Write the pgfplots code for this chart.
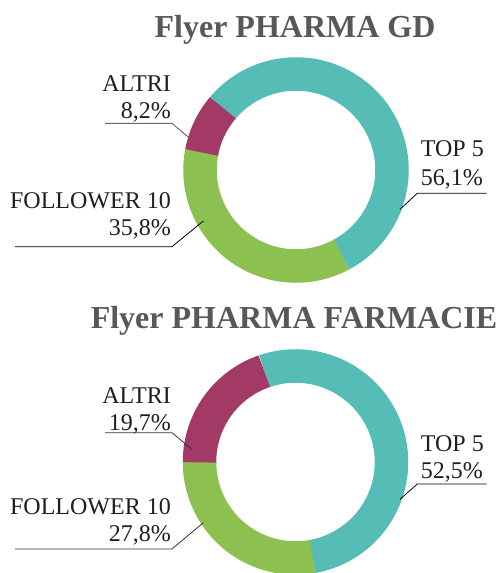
\documentclass[border=0pt]{standalone}
\usepackage{fontspec}
\setmainfont{Liberation Serif}
\usepackage{pgfplots}
\usepackage{pgfplotstable}
\pgfplotsset{compat=1.18}
\definecolor{cTeal}{HTML}{55BDB5}
\definecolor{cGreen}{HTML}{8CC152}
\definecolor{cMaroon}{HTML}{A33A66}
\definecolor{cTitle}{HTML}{58585A}
\definecolor{cLab}{HTML}{1E1E1E}

\pgfplotstableread{
slice value
top5 56.1
follower 35.8
altri 8.2
}\tabGD
\pgfplotstableread{
slice value
top5 52.5
follower 27.8
altri 19.7
}\tabFA

\newcommand\getval[3]{\pgfplotstablegetelem{#2}{value}\of#1\global\let#3\pgfplotsretval}
\newcommand\ttl{\fontsize{32}{36}\selectfont\bfseries}
\newcommand\lab{\fontsize{24}{28}\selectfont}

\begin{document}
\begin{tikzpicture}
\getval\tabGD{0}\gdA
\getval\tabGD{1}\gdB
\getval\tabGD{2}\gdC
\getval\tabFA{0}\faA
\getval\tabFA{1}\faB
\getval\tabFA{2}\faC
% start angles (math convention), slices run clockwise
\pgfmathsetmacro\gdS{140}
\pgfmathsetmacro\gdEa{\gdS-3.6*\gdA}
\pgfmathsetmacro\gdEb{\gdEa-3.6*\gdB}
\pgfmathsetmacro\gdEc{\gdEb-3.6*\gdC}
\pgfmathsetmacro\faS{109}
\pgfmathsetmacro\faEa{\faS-3.6*\faA}
\pgfmathsetmacro\faEb{\faEa-3.6*\faB}
\pgfmathsetmacro\faEc{\faEb-3.6*\faC}
\begin{axis}[at={(0,0)}, anchor=south west, scale only axis,
  width=503pt, height=573pt, xmin=0, xmax=503, ymin=0, ymax=573,
  y dir=reverse, axis lines=none, ticks=none, clip=false]
% ---- donut 1
\draw[cTeal, line width=33.5pt] (axis cs:296,170) ++(\gdS:96pt) arc[start angle=\gdS, end angle=\gdEa, radius=96pt];
\draw[cGreen, line width=33.5pt] (axis cs:296,170) ++(\gdEa+0.3:96pt) arc[start angle=\gdEa+0.3, end angle=\gdEb, radius=96pt];
\draw[cMaroon, line width=33.5pt] (axis cs:296,170) ++(\gdEb+0.3:96pt) arc[start angle=\gdEb+0.3, end angle=\gdEc, radius=96pt];
% ---- donut 2
\draw[cTeal, line width=33.5pt] (axis cs:295.5,462) ++(\faS:96pt) arc[start angle=\faS, end angle=\faEa, radius=96pt];
\draw[cGreen, line width=33.5pt] (axis cs:295.5,462) ++(\faEa+0.3:96pt) arc[start angle=\faEa+0.3, end angle=\faEb, radius=96pt];
\draw[cMaroon, line width=33.5pt] (axis cs:295.5,462) ++(\faEb+0.3:96pt) arc[start angle=\faEb+0.3, end angle=\faEc, radius=96pt];
% ---- titles
\node[anchor=base, font=\ttl, text=cTitle, inner sep=0pt] at (axis cs:295,37) {Flyer PHARMA GD};
\node[anchor=base, font=\ttl, text=cTitle, inner sep=0pt] at (axis cs:294,328) {Flyer PHARMA FARMACIE};
% ---- labels donut 1
\node[anchor=base east, font=\lab, text=cLab, inner sep=0pt] at (axis cs:171,91.7) {ALTRI};
\node[anchor=base east, font=\lab, text=cLab, inner sep=0pt] at (axis cs:171,118.3) {8,2\%};
\draw[black!60, line width=0.9pt] (axis cs:105,123.3) -- (axis cs:172,123.3) -- (axis cs:191.7,140);
\node[anchor=base east, font=\lab, text=cLab, inner sep=0pt] at (axis cs:171,208.3) {FOLLOWER 10};
\node[anchor=base east, font=\lab, text=cLab, inner sep=0pt] at (axis cs:171,235) {35,8\%};
\draw[black, line width=0.8pt] (axis cs:15,246.7) -- (axis cs:172,246.7) -- (axis cs:203.3,221);
\node[anchor=base west, font=\lab, text=cLab, inner sep=0pt] at (axis cs:420.7,156.7) {TOP 5};
\node[anchor=base west, font=\lab, text=cLab, inner sep=0pt] at (axis cs:420.7,185) {56,1\%};
\draw[black, line width=0.8pt] (axis cs:486.7,193.3) -- (axis cs:417.3,193.3) -- (axis cs:400,209.3);
% ---- labels donut 2
\node[anchor=base east, font=\lab, text=cLab, inner sep=0pt] at (axis cs:171,403.3) {ALTRI};
\node[anchor=base east, font=\lab, text=cLab, inner sep=0pt] at (axis cs:171,430) {19,7\%};
\draw[black!80, line width=0.8pt] (axis cs:105,432.7) -- (axis cs:172,432.7) -- (axis cs:191.7,449.3);
\node[anchor=base east, font=\lab, text=cLab, inner sep=0pt] at (axis cs:171,514) {FOLLOWER 10};
\node[anchor=base east, font=\lab, text=cLab, inner sep=0pt] at (axis cs:171,541.7) {27,8\%};
\draw[black!80, line width=0.8pt] (axis cs:15,549) -- (axis cs:172,549) -- (axis cs:203.3,522.7);
\node[anchor=base west, font=\lab, text=cLab, inner sep=0pt] at (axis cs:420.7,451.7) {TOP 5};
\node[anchor=base west, font=\lab, text=cLab, inner sep=0pt] at (axis cs:420.7,478.3) {52,5\%};
\draw[black, line width=0.8pt] (axis cs:486.7,484) -- (axis cs:417.3,484) -- (axis cs:400,499.3);
\end{axis}
\pgfresetboundingbox
\path (0,0) rectangle (503pt,573pt);
\end{tikzpicture}
\end{document}
